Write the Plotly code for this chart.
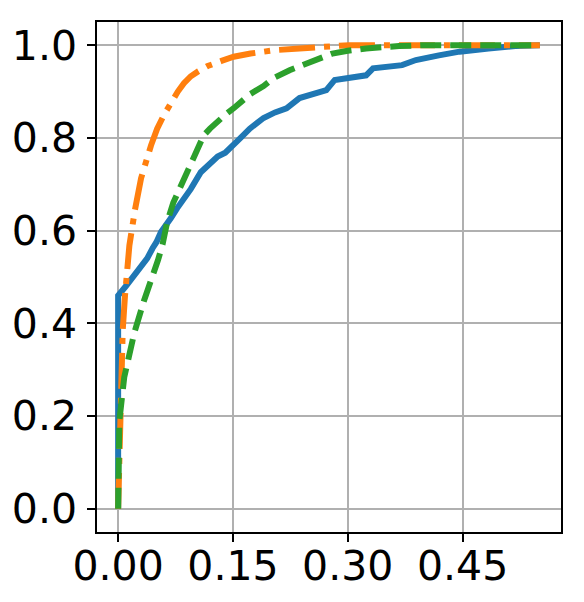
import plotly.graph_objects as go

blue_x = [0, 0, 0.01, 0.021, 0.03, 0.038, 0.045, 0.05, 0.056, 0.062, 0.069, 0.077, 0.085, 0.095,
          0.108, 0.12, 0.13, 0.14, 0.149, 0.16, 0.172, 0.18, 0.19, 0.205, 0.22, 0.237, 0.255,
          0.272, 0.283, 0.3, 0.324, 0.333, 0.355, 0.371, 0.389, 0.405, 0.419, 0.446, 0.465,
          0.484, 0.519, 0.551]
blue_y = [0, 0.46, 0.48, 0.504, 0.52, 0.54, 0.562, 0.575, 0.597, 0.61, 0.627, 0.648, 0.665, 0.69,
          0.726, 0.745, 0.76, 0.768, 0.784, 0.8, 0.82, 0.83, 0.843, 0.855, 0.864, 0.886, 0.895,
          0.903, 0.925, 0.93, 0.935, 0.95, 0.955, 0.957, 0.968, 0.972, 0.978, 0.986, 0.99,
          0.993, 0.998, 1.0]

orange_x = [0, 0.003, 0.006, 0.009, 0.013, 0.0147, 0.022, 0.03, 0.043, 0.051, 0.06, 0.069, 0.078,
            0.086, 0.095, 0.105, 0.117, 0.135, 0.151, 0.173, 0.203, 0.237, 0.27, 0.302, 0.551]
orange_y = [0, 0.2, 0.385, 0.46, 0.525, 0.568, 0.645, 0.713, 0.784, 0.82, 0.85, 0.877, 0.9,
            0.918, 0.933, 0.944, 0.955, 0.966, 0.975, 0.982, 0.989, 0.993, 0.997, 1.0, 1.0]

green_x = [0, 0.0016, 0.008, 0.021, 0.034, 0.045, 0.052, 0.058, 0.064, 0.072, 0.082, 0.099, 0.112,
           0.12, 0.129, 0.14, 0.151, 0.162, 0.173, 0.19, 0.203, 0.224, 0.246, 0.265, 0.28, 0.3,
           0.324, 0.367, 0.4, 0.551]
green_y = [0, 0.19, 0.284, 0.379, 0.45, 0.5, 0.536, 0.57, 0.618, 0.66, 0.698, 0.756, 0.806,
           0.82, 0.835, 0.85, 0.864, 0.88, 0.895, 0.912, 0.929, 0.946, 0.961, 0.972, 0.982, 0.988,
           0.993, 0.998, 1.0, 1.0]

x_ticks = [0, 0.15, 0.30, 0.45]
x_tick_labels = ["0.00", "0.15", "0.30", "0.45"]
y_ticks = [0, 0.2, 0.4, 0.6, 0.8, 1.0]
y_tick_labels = ["0.0", "0.2", "0.4", "0.6", "0.8", "1.0"]

fig = go.Figure()
fig.add_trace(go.Scatter(x=blue_x, y=blue_y, mode="lines",
                         line=dict(color="#1f77b4", width=6)))
fig.add_trace(go.Scatter(x=orange_x, y=orange_y, mode="lines",
                         line=dict(color="#ff7f0e", width=6, dash="36px,9px,6px,9px")))
fig.add_trace(go.Scatter(x=green_x, y=green_y, mode="lines",
                         line=dict(color="#2ca02c", width=6, dash="21px,9px")))

axis_common = dict(
    showline=True, linecolor="black", linewidth=1.5, mirror=True,
    showgrid=True, gridcolor="#b0b0b0", gridwidth=1.5,
    zeroline=False, ticks="outside", ticklen=8, tickwidth=1.5, tickcolor="black",
    tickfont=dict(family="DejaVu Sans", size=41, color="black"),
    automargin=False,
)

fig.update_layout(
    width=584, height=602,
    margin=dict(l=97, r=23, t=22, b=70),
    paper_bgcolor="white", plot_bgcolor="white",
    showlegend=False,
    xaxis=dict(range=[-0.0276, 0.5786], tickvals=x_ticks, ticktext=x_tick_labels,
               ticklabelstandoff=-11, **axis_common),
    yaxis=dict(range=[-0.05, 1.05], tickvals=y_ticks, ticktext=y_tick_labels,
               ticklabelstandoff=2, **axis_common),
)

fig.write_html("out.html")
